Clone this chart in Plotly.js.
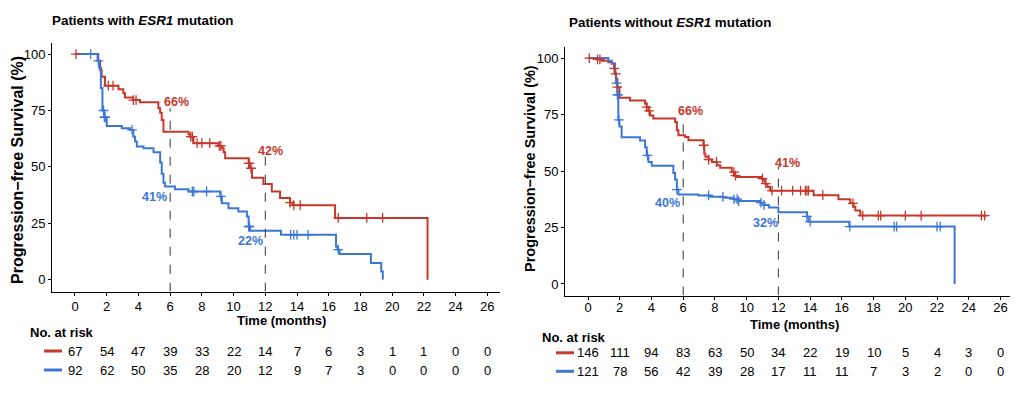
<!DOCTYPE html>
<html><head><meta charset="utf-8">
<script src="https://cdn.plot.ly/plotly-3.0.1.min.js"></script>
<style>html,body{margin:0;padding:0;background:#fff}#chart{width:1024px;height:394px}</style>
</head><body><div id="chart"></div>
<script>
// ---------- data ----------
const months = [0,2,4,6,8,10,12,14,16,18,20,22,24,26];
const yTicks = [0,25,50,75,100];

// Panel A: patients with ESR1 mutation
const aRedT = [0,1.47,1.58,1.68,1.89,2.74,3.05,3.15,3.68,4.1,5.26,5.37,5.47,5.58,7.16,7.26,7.47,9.05,9.26,9.37,9.47,10.95,11.05,11.16,11.88,12.41,12.93,13.56,13.73,16.4,22.23];
const aRedS = [100,97,93,90,86,84.4,82.6,80.8,79.6,78.6,76,74,70.8,65.6,64.5,63.4,60.5,59.3,58.3,56.5,53.8,51.6,49.4,45.2,42.4,39.1,36.2,34.2,33,27.4,0];
const aRedCens = [0.06,2.1,2.4,3.68,3.85,7.3,7.4,7.7,8.0,8.5,9.1,9.2,10.95,11.0,11.1,13.56,13.8,14.2,16.6,18.4,19.4];
const aBlueT = [0,1.42,1.52,1.63,1.73,1.84,2.0,2.95,3.47,3.68,3.79,3.9,4.32,4.95,5.37,5.47,5.58,5.68,6.3,7.16,9.16,9.26,9.68,10.3,10.84,10.95,11.05,12.99,16.46,16.55,16.68,18.66,19.31,19.41];
const aBlueS = [100,97,94,85,75,72,68.1,67.1,66.4,63.4,61.2,59,58.3,56.5,52,47,43,41.3,40.1,39.1,36.9,33.9,31.7,30.2,28,23.6,21.7,19.9,14.7,13.3,11.4,7.4,3.7,0];
const aBlueCens = [0.99,1.47,1.8,1.85,1.9,3.6,7.4,7.5,8.3,9.2,10.95,11.0,13.6,13.8,14.0,14.7,16.6];
const aRiskRed = [67,54,47,39,33,22,14,7,6,3,1,1,0,0];
const aRiskBlue = [92,62,50,35,28,20,12,9,7,3,0,0,0,0];

// Panel B: patients without ESR1 mutation
const bRedT = [0,0.55,0.86,1.28,1.5,1.64,1.7,1.77,1.85,1.98,2.65,3.6,3.7,3.8,3.91,4.12,5.49,5.6,5.7,6.12,6.33,7.28,7.33,7.4,7.6,7.81,8.12,8.33,9.06,9.21,9.34,10.96,11.06,11.17,11.31,11.48,14.22,15.79,16.53,16.74,16.85,17.16,25.15];
const bRedS = [100,99.4,98.8,98.2,97.6,95.4,93,90.8,87.1,82.4,81.2,79.8,78.3,76.6,74.6,73.2,71.7,68,65.8,65.1,63.6,61.4,57.7,56.3,55.1,54,52.6,51.5,49.5,48,47.3,46.6,45.8,44.4,42.9,41.3,39.3,37.5,35.7,34.2,32.5,30.3,30.3];
const bRedCens = [0.08,0.6,0.75,1.65,1.75,1.85,3.7,3.85,7.3,7.6,8.1,9.2,9.3,11.0,11.2,11.6,12.2,12.9,13.4,13.7,13.8,13.9,14.8,16.7,17.32,18.3,18.45,20.0,21.0,24.8,25.0];
const bBlueT = [0,1.28,1.5,1.7,1.76,1.85,1.91,1.98,2.12,3.28,3.6,3.7,3.81,4.02,5.38,5.49,5.6,5.7,6.96,7.7,8.54,9.17,9.48,10.86,11.07,11.4,12.0,13.8,13.9,16.47,23.11];
const bBlueS = [100,98.8,97.6,93.3,88.9,83.7,72.6,69.7,65,63.5,60.5,56.9,54,52.3,49.1,46.2,41.8,39.6,39.2,38.6,38.2,37.6,36.7,36,35,33.8,31.7,29.9,27.6,25.4,0];
const bBlueCens = [1.8,1.85,1.9,1.95,3.75,5.6,7.6,8.5,9.2,9.4,9.5,10.9,11.1,13.8,14.0,16.5,19.3,19.45,22.0,22.2];
const bRiskRed = [146,111,94,83,63,50,34,22,19,10,5,4,3,0];
const bRiskBlue = [121,78,56,42,39,28,17,11,11,7,3,2,0,0];

// milestone labels
const milestoneT = [6,12];
const aRedLabels = ["66%","42%"], aBlueLabels = ["41%","22%"];
const bRedLabels = ["66%","41%"], bBlueLabels = ["40%","32%"];

// ---------- style ----------
const RED = "#C6382C", BLUE = "#3D77D6";
const FONT = "Liberation Sans, Arial, sans-serif";

function stepAt(ts, ss, c){ let v = ss[0]; for(let i=0;i<ts.length;i++){ if(ts[i] <= c) v = ss[i]; } return v; }

function curve(ts, ss, color, xa, ya){
  return {x: ts, y: ss, xaxis: xa, yaxis: ya, mode: "lines", line:{shape:"hv", color: color, width: 2}, hoverinfo:"skip", showlegend:false};
}
function cens(cs, ts, ss, color, xa, ya){
  return {x: cs, y: cs.map(c => stepAt(ts, ss, c)), xaxis: xa, yaxis: ya, mode:"markers",
    marker:{symbol:"cross-thin", size:7, color: color, line:{color: color, width:1.3}}, hoverinfo:"skip", showlegend:false};
}

const traces = [
  curve(aRedT, aRedS, RED, "x", "y"), curve(aBlueT, aBlueS, BLUE, "x", "y"),
  cens(aRedCens, aRedT, aRedS, RED, "x", "y"), cens(aBlueCens, aBlueT, aBlueS, BLUE, "x", "y"),
  curve(bRedT, bRedS, RED, "x2", "y2"), curve(bBlueT, bBlueS, BLUE, "x2", "y2"),
  cens(bRedCens, bRedT, bRedS, RED, "x2", "y2"), cens(bBlueCens, bBlueT, bBlueS, BLUE, "x2", "y2")
];

function axisX(domain, range){
  return {domain: domain, range: range, showgrid:false, zeroline:false, showline:true, linecolor:"#000", linewidth:1,
    ticks:"outside", ticklen:3, tickcolor:"#000", tickvals: months, ticktext: months.map(String),
    tickfont:{family:FONT, size:13, color:"#000"}, fixedrange:true};
}
function axisY(domain, range, anchor){
  return {domain: domain, range: range, anchor: anchor, showgrid:false, zeroline:false, showline:true, linecolor:"#000", linewidth:1,
    ticks:"outside", ticklen:3, tickcolor:"#000", tickvals: yTicks, ticktext: yTicks.map(String),
    tickfont:{family:FONT, size:13, color:"#000"}, fixedrange:true};
}

const aYmin = -5.3, bYmin = -5.1;
const annotations = [];
const shapes = [];

function txt(o){ return Object.assign({showarrow:false, font:{family:FONT, size:13, color:"#000"}}, o); }

// titles
annotations.push(txt({xref:"paper", yref:"paper", x:50/1024, y:1-20/394, xanchor:"left", yanchor:"middle", font:{family:FONT, size:13.4, color:"#000"}, text:"<b>Patients with <i>ESR1</i> mutation</b>"}));
annotations.push(txt({xref:"paper", yref:"paper", x:567/1024, y:1-22/394, xanchor:"left", yanchor:"middle", font:{family:FONT, size:13.4, color:"#000"}, text:"<b>Patients without <i>ESR1</i> mutation</b>"}));
// y titles
annotations.push(txt({xref:"paper", yref:"paper", x:17/1024, y:1-170/394, xanchor:"center", yanchor:"middle", textangle:-90, font:{family:FONT, size:16, color:"#000"}, text:"<b>Progression\u2212free Survival (%)</b>"}));
annotations.push(txt({xref:"paper", yref:"paper", x:530/1024, y:1-169/394, xanchor:"center", yanchor:"middle", textangle:-90, font:{family:FONT, size:14.5, color:"#000"}, text:"<b>Progression\u2212free Survival (%)</b>"}));
// x titles
annotations.push(txt({xref:"paper", yref:"paper", x:281/1024, y:1-320/394, xanchor:"center", yanchor:"middle", text:"<b>Time (months)</b>"}));
annotations.push(txt({xref:"paper", yref:"paper", x:794/1024, y:1-324.5/394, xanchor:"center", yanchor:"middle", text:"<b>Time (months)</b>"}));
// No. at risk
annotations.push(txt({xref:"paper", yref:"paper", x:28/1024, y:1-332/394, xanchor:"left", yanchor:"middle", text:"<b>No. at risk</b>"}));
annotations.push(txt({xref:"paper", yref:"paper", x:540/1024, y:1-337.5/394, xanchor:"left", yanchor:"middle", text:"<b>No. at risk</b>"}));

// risk rows
function riskRow(vals, xref, ypx){
  vals.forEach((v,i) => annotations.push(txt({xref:xref, yref:"paper", x:months[i], y:1-ypx/394, xanchor:"center", yanchor:"middle", text:String(v)})));
}
riskRow(aRiskRed, "x", 351); riskRow(aRiskBlue, "x", 370);
riskRow(bRiskRed, "x2", 352.8); riskRow(bRiskBlue, "x2", 371.3);
// legend keys in risk table
[[44,62,351,RED],[44,62,370,BLUE],[556,574,352.8,RED],[556,574,371.3,BLUE]].forEach(k => {
  shapes.push({type:"line", xref:"paper", yref:"paper", x0:k[0]/1024, x1:k[1]/1024, y0:1-k[2]/394, y1:1-k[2]/394, line:{color:k[3], width:3}});
});

// milestone dashed lines
const aDashTop = [76, 54.6], bDashTop = [74.3, 52];
milestoneT.forEach((t,i) => {
  shapes.push({type:"line", xref:"x", yref:"y", x0:t, x1:t, y0:aYmin, y1:aDashTop[i], line:{color:"#333", width:1, dash:"dash"}});
  shapes.push({type:"line", xref:"x2", yref:"y2", x0:t, x1:t, y0:bYmin, y1:bDashTop[i], line:{color:"#333", width:1, dash:"dash"}});
});
// milestone labels (positions)
const aRedPos = [[6.37,78.8],[12.3,57]], aBluePos = [[5.0,36.7],[11.05,17.3]];
const bRedPos = [[6.44,76.7],[12.6,53.7]], bBluePos = [[5.04,36],[11.2,27.1]];
function lab(labels, pos, color, xr, yr){
  labels.forEach((s,i) => annotations.push({xref:xr, yref:yr, x:pos[i][0], y:pos[i][1], text:"<b>"+s+"</b>", showarrow:false, xanchor:"center", yanchor:"middle", font:{family:FONT, size:12.5, color:color}}));
}
lab(aRedLabels, aRedPos, RED, "x", "y"); lab(aBlueLabels, aBluePos, BLUE, "x", "y");
lab(bRedLabels, bRedPos, RED, "x2", "y2"); lab(bBlueLabels, bBluePos, BLUE, "x2", "y2");

const layout = {
  width:1024, height:394, margin:{l:0,r:0,t:0,b:0}, paper_bgcolor:"#fff", plot_bgcolor:"#fff",
  showlegend:false, font:{family:FONT, size:13, color:"#000"},
  xaxis: Object.assign(axisX([52/1024, 500/1024], [-1.45, 26.8]), {anchor:"y"}),
  yaxis: axisY([1-291.7/394, 1-43/394], [aYmin, 104.9], "x"),
  xaxis2: Object.assign(axisX([565/1024, 1010/1024], [-1.45, 26.6]), {anchor:"y2", ticklabelstandoff:-3}),
  yaxis2: axisY([1-295.5/394, 1-47/394], [bYmin, 104.9], "x2"),
  annotations: annotations, shapes: shapes
};
Plotly.newPlot("chart", traces, layout, {staticPlot:true, displayModeBar:false});
</script></body></html>
